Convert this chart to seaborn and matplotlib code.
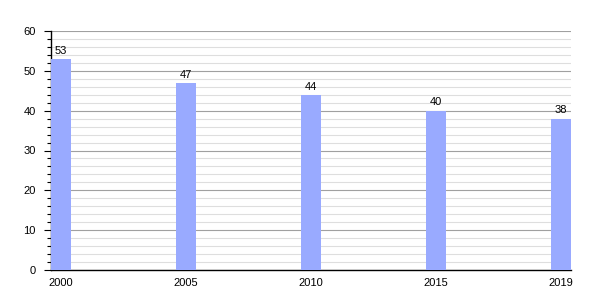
import matplotlib
matplotlib.use("Agg")
import matplotlib.pyplot as plt
from matplotlib.ticker import MultipleLocator
import seaborn as sns
import pandas as pd

years = ["2000", "2005", "2010", "2015", "2019"]
values = [53, 47, 44, 40, 38]

sns.set_theme(style="white")
plt.rcParams['font.family'] = ['Liberation Sans', 'DejaVu Sans']
plt.rcParams['text.color'] = 'black'
plt.rcParams['xtick.color'] = 'black'
plt.rcParams['ytick.color'] = 'black'
plt.rcParams['xtick.labelcolor'] = 'black'
plt.rcParams['ytick.labelcolor'] = 'black'

df = pd.DataFrame({"year": years, "value": values})

fig = plt.figure(figsize=(6, 3), dpi=100)
ax = fig.add_axes([51/600, 30/300, 520/600, 239/300])

bw = 0.16
sns.barplot(data=df, x="year", y="value", color="#99aaff", saturation=1,
            width=bw, ax=ax, zorder=3)
for p in ax.patches:
    p.set_edgecolor("none")

ax.set_xlim(-bw/2, len(years) - 1 + bw/2)
ax.set_ylim(0, 60)
ax.yaxis.set_major_locator(MultipleLocator(10))
ax.yaxis.set_minor_locator(MultipleLocator(2))
ax.grid(axis="y", which="major", color="#a0a0a0", linewidth=0.8, zorder=0)
ax.grid(axis="y", which="minor", color="#dedede", linewidth=0.8, zorder=0)
ax.set_axisbelow(True)

for s in ["top", "right"]:
    ax.spines[s].set_visible(False)
for s in ["left", "bottom"]:
    ax.spines[s].set_color("black")
    ax.spines[s].set_linewidth(1.0)

ax.tick_params(axis="y", which="major", left=True, length=5, width=0.8, color="black",
               labelcolor="black", labelsize=8, pad=6)
ax.tick_params(axis="y", which="minor", left=True, length=3, width=0.8, color="black")
ax.tick_params(axis="x", bottom=False, labelsize=8, pad=0, labelcolor="black")
ax.set_xlabel("")
ax.set_ylabel("")

for i, v in enumerate(values):
    ax.text(i, v + 0.8, str(v), ha="center", va="bottom", fontsize=8, color="black")

fig.savefig("out.png", dpi=100)
